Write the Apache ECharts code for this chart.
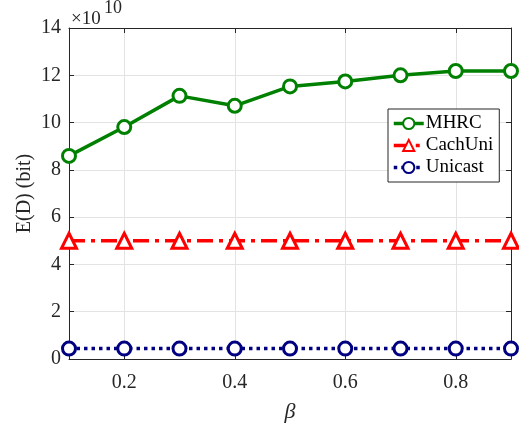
<!DOCTYPE html>
<html>
<head>
<meta charset="utf-8">
<script src="https://cdn.jsdelivr.net/npm/echarts@6/dist/echarts.min.js"></script>
<style>
  html, body { margin: 0; padding: 0; background: #fff; }
  #chart { width: 519px; height: 428px; }
</style>
</head>
<body>
<div id="chart"></div>
<script>
// Expected delivered data E(D) in units of 1e10 bit, versus beta
const betaValues = [0.1, 0.2, 0.3, 0.4, 0.5, 0.6, 0.7, 0.8, 0.9];
const mhrc = [8.59, 9.81, 11.13, 10.71, 11.53, 11.74, 12.0, 12.18, 12.18];
const cachUni = [5.0, 5.0, 5.0, 5.0, 5.0, 5.0, 5.0, 5.0, 5.0];
const unicast = [0.44, 0.44, 0.44, 0.44, 0.44, 0.44, 0.44, 0.44, 0.44];
const xTicks = [0.2, 0.4, 0.6, 0.8];
const yTicks = [0, 2, 4, 6, 8, 10, 12, 14];

const FONT = '"Liberation Serif", "Times New Roman", serif';
const AXIS_COLOR = '#262626';
const GRID_COLOR = '#e3e3e3';

const pairs = arr => betaValues.map((b, i) => [b, arr[i]]);

const chart = echarts.init(document.getElementById('chart'), null, { renderer: 'canvas' });

const xBase = {
  type: 'value', min: 0.1, max: 0.9,
  axisLine: { show: true, onZero: false, lineStyle: { color: AXIS_COLOR, width: 1 } },
  axisTick: { show: true, inside: true, length: 5, customValues: xTicks, lineStyle: { color: AXIS_COLOR } }
};
const yBase = {
  type: 'value', min: 0, max: 14, interval: 2,
  axisLine: { show: true, onZero: false, lineStyle: { color: AXIS_COLOR, width: 1 } },
  axisTick: { show: true, inside: true, length: 5, lineStyle: { color: AXIS_COLOR } }
};

chart.setOption({
  animation: false,
  backgroundColor: '#fff',
  grid: { left: 69, right: 8, top: 28, bottom: 66, containLabel: false },
  xAxis: [
    Object.assign({}, xBase, {
      position: 'bottom',
      name: 'β', nameLocation: 'middle', nameGap: 42, nameMoveOverlap: false,
      nameTextStyle: { fontFamily: FONT, fontStyle: 'italic', fontSize: 22, color: AXIS_COLOR },
      axisLabel: { customValues: xTicks, fontFamily: FONT, fontSize: 20, color: AXIS_COLOR, margin: 14,
                   formatter: v => v.toFixed(1) },
      splitLine: { show: true, lineStyle: { color: GRID_COLOR, width: 1 } }
    }),
    Object.assign({}, xBase, {
      position: 'top',
      axisLabel: { show: false },
      splitLine: { show: false }
    })
  ],
  yAxis: [
    Object.assign({}, yBase, {
      position: 'left',
      name: 'E(D) (bit)', nameLocation: 'middle', nameGap: 44, nameRotate: 90, nameMoveOverlap: false,
      nameTextStyle: { fontFamily: FONT, fontSize: 20, color: AXIS_COLOR, verticalAlign: 'middle' },
      axisLabel: { fontFamily: FONT, fontSize: 20, color: AXIS_COLOR, margin: 8 },
      splitLine: { show: true, lineStyle: { color: GRID_COLOR, width: 1 } }
    }),
    Object.assign({}, yBase, {
      position: 'right',
      axisLabel: { show: false },
      splitLine: { show: false }
    })
  ],
  legend: {
    left: 388, top: 109, orient: 'vertical',
    backgroundColor: '#fff', borderColor: '#262626', borderWidth: 1,
    padding: [5, 6, 5, 4], itemGap: 3, itemWidth: 30, itemHeight: 14,
    textStyle: { fontFamily: FONT, fontSize: 19, color: '#000', padding: [0, 0, 0, -3] },
    data: [
      { name: 'MHRC', lineStyle: { width: 3.5 } },
      { name: 'CachUni', lineStyle: { width: 3.5 } },
      { name: 'Unicast', lineStyle: { width: 3.5 } }
    ]
  },
  graphic: [
    { type: 'text', x: 71, y: 19,
      style: { text: '×10', fontFamily: FONT, fontSize: 19, fill: AXIS_COLOR, verticalAlign: 'middle' } },
    { type: 'text', x: 104, y: 8,
      style: { text: '10', fontFamily: FONT, fontSize: 18, fill: AXIS_COLOR, verticalAlign: 'middle' } }
  ],
  series: [
    {
      name: 'MHRC', type: 'line', data: pairs(mhrc), z: 5,
      symbol: 'circle', symbolSize: 13,
      lineStyle: { color: '#008000', width: 3.5 },
      itemStyle: { color: '#fff', borderColor: '#008000', borderWidth: 3 }
    },
    {
      name: 'CachUni', type: 'line', data: pairs(cachUni), z: 4,
      symbol: 'triangle', symbolSize: 15,
      lineStyle: { color: '#ff0000', width: 3.5, type: [16, 6, 4, 6] },
      itemStyle: { color: '#fff', borderColor: '#ff0000', borderWidth: 3 }
    },
    {
      name: 'Unicast', type: 'line', data: pairs(unicast), z: 3,
      symbol: 'circle', symbolSize: 13,
      lineStyle: { color: '#000080', width: 3.5, type: [3.5, 4] },
      itemStyle: { color: '#fff', borderColor: '#000080', borderWidth: 3 }
    }
  ]
});
</script>
</body>
</html>
